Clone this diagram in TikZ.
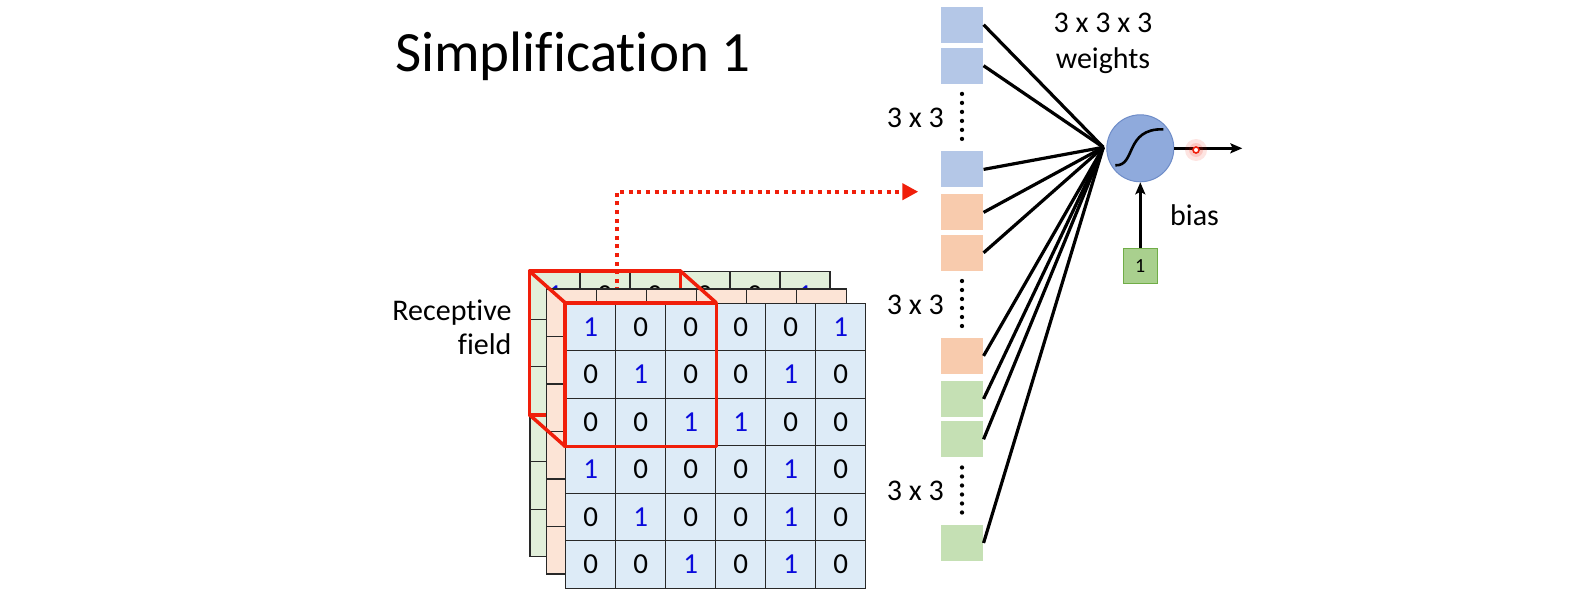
\documentclass[tikz,border=0pt]{standalone}
\usepackage{fontspec}
\setmainfont{Carlito}[Ligatures=CommonOff]
\usetikzlibrary{arrows.meta, positioning, calc}

\definecolor{frontfill}{RGB}{221,235,247}
\definecolor{orangefill}{RGB}{252,228,214}
\definecolor{greenfill}{RGB}{226,239,218}
\definecolor{wblue}{RGB}{180,199,231}
\definecolor{worange}{RGB}{248,203,173}
\definecolor{wgreen}{RGB}{197,224,180}
\definecolor{neuronfill}{RGB}{143,170,220}
\definecolor{neuronedge}{RGB}{110,140,200}
\definecolor{biasfill}{RGB}{169,208,142}
\definecolor{biasedge}{RGB}{112,173,71}
\definecolor{laser}{RGB}{240,30,10}
\definecolor{digitblue}{RGB}{10,10,220}
\definecolor{gridline}{RGB}{40,40,40}

% one 6x6 layer of the input, #1 name prefix, (#2,#3) top left corner, #4 fill
\newcommand{\gridlayer}[4]{%
  \foreach \row [count=\r] in {{1,0,0,0,0,1},{0,1,0,0,1,0},{0,0,1,1,0,0},{1,0,0,0,1,0},{0,1,0,0,1,0},{0,0,1,0,1,0}}
    \foreach \v [count=\c] in \row
      \node[cell, fill=#4, val\v] (#1-\r-\c) at (#2+\c*50-25, #3+\r*47.5-23.75) {\v};
}

\begin{document}
\begin{tikzpicture}[
        x=1pt, y=-1pt,
        cell/.style={rectangle, draw=gridline, line width=1.1pt, minimum width=50pt, minimum height=47.5pt, inner sep=0pt, font=\fontsize{29}{29}\selectfont},
        val0/.style={text=black},
        val1/.style={text=digitblue},
        wbox/.style={rectangle, minimum width=42.7pt, minimum height=36pt, inner sep=0pt},
        lbl/.style={inner sep=0pt, font=\fontsize{30}{36}\selectfont},
        neuron/.style={circle, draw=neuronedge, line width=1pt, fill=neuronfill, minimum size=67pt, inner sep=0pt},
        onebox/.style={rectangle, draw=biasedge, line width=0.8pt, fill=biasfill, minimum width=34.7pt, minimum height=35.3pt, inner sep=0pt, font=\fontsize{20}{20}\selectfont},
        field/.style={draw=laser, line width=3.5pt, line join=round},
        pointer/.style={draw=laser, line width=4pt, dash pattern=on 4pt off 4.6pt, -{Triangle[length=16pt, width=16pt]}},
        wline/.style={line width=3.2pt},
        dotcol/.style={line width=4.3pt, line cap=round, dash pattern=on 0pt off 9pt},
        arrow/.style={line width=2.4pt, -{Stealth[length=12pt, width=10pt, inset=2.5pt]}}
    ]
        \useasboundingbox (0,0) rectangle (1578,599);

        % Title
        \node[inner sep=0pt, anchor=base west, font=\fontsize{57}{57}\selectfont] (title) at (395,71.7) {Simplification 1};

        % Input layers, back to front
        \gridlayer{g}{530}{271.7}{greenfill}
        \draw[field] (g-1-1.north west) rectangle (g-3-3.south east);
        \coordinate (rf) at (616.7,300);
        \coordinate (tip) at (918.3,191.7);
        \draw[pointer] (rf) |- (tip);
        \gridlayer{o}{546.7}{289}{orangefill}
        \gridlayer{f}{565.7}{303.3}{frontfill}

        % Receptive field
        \draw[field] (f-1-1.north west) rectangle (f-3-3.south east);
        \draw[field] (g-1-1.north west) -- (f-1-1.north west);
        \draw[field] (g-1-3.north east) -- (f-1-3.north east);
        \draw[field] (g-3-1.south west) -- (f-3-1.south west);
        \node[lbl, align=right, anchor=base east, font=\fontsize{30}{34}\selectfont] (rflabel) at (511.7,354) {Receptive\\field};

        % Weights
        \node[wbox, fill=wblue] (w1) at (962,24.7) {};
        \node[wbox, fill=wblue, below=4.6pt of w1] (w2) {};
        \node[wbox, fill=wblue, below=67.3pt of w2] (w3) {};
        \node[wbox, fill=worange, below=6.6pt of w3] (w4) {};
        \node[wbox, fill=worange, below=4pt of w4] (w5) {};
        \node[wbox, fill=worange, below=66.7pt of w5] (w6) {};
        \node[wbox, fill=wgreen, below=6.6pt of w6] (w7) {};
        \node[wbox, fill=wgreen, below=4pt of w7] (w8) {};
        \node[wbox, fill=wgreen, below=67.3pt of w8] (w9) {};

        \draw[dotcol] ($(w2.south)+(0,10)$) -- ++(0,45);
        \draw[dotcol] ($(w5.south)+(0,10)$) -- ++(0,45);
        \draw[dotcol] ($(w8.south)+(0,10)$) -- ++(0,45);
        \node[lbl, anchor=east] (n1) at ($(w2.south)+(-18,33.5)$) {3 x 3};
        \node[lbl, anchor=east] (n2) at ($(w5.south)+(-18,33.5)$) {3 x 3};
        \node[lbl, anchor=east] (n3) at ($(w8.south)+(-18,33.5)$) {3 x 3};
        \node[lbl, align=center, anchor=base] (wlabel) at (1103,68.5) {3 x 3 x 3\\weights};

        % Neuron
        \node[neuron] (neuron) at (1140.3,148.3) {};
        \coordinate (hub) at ($(neuron.west)+(-3,-1)$);
        \foreach \i in {1,...,9}
            \draw[wline] (w\i.east) -- (hub);
        \draw[line width=2.6pt] ($(neuron)+(-25,17)$) .. controls ($(neuron)+(-4,18)$) and ($(neuron)+(-16,-20)$) .. ($(neuron)+(23,-19)$);

        \node[onebox, below=65.6pt of neuron] (one) {1};
        \draw[arrow] (one) -- (neuron);
        \node[lbl, anchor=base west] (bias) at (1170,225) {bias};

        \coordinate (out) at ($(neuron.east)+(68,0)$);
        \draw[arrow] (neuron) -- (out);

        % laser pointer
        \fill[laser, opacity=0.12] (1196,150) circle (11);
        \fill[laser, opacity=0.15] (1196,150) circle (7);
        \node[circle, draw=laser, fill=white, line width=1.6pt, minimum size=6pt, inner sep=0pt] (dot) at (1196,150) {};

    \end{tikzpicture}
\end{document}
